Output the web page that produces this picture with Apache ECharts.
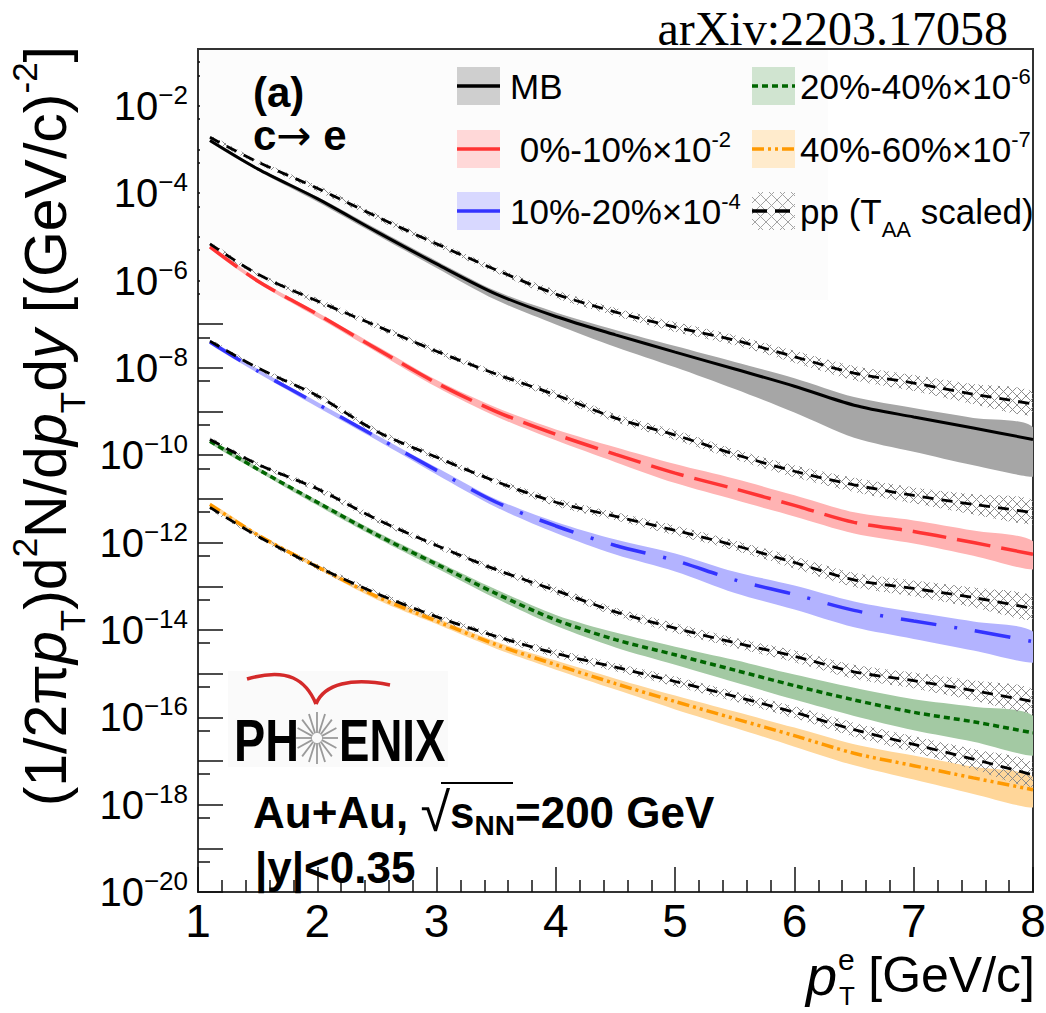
<!DOCTYPE html>
<html>
<head>
<meta charset="utf-8">
<title>c→e spectra, Au+Au</title>
<script src="https://cdn.jsdelivr.net/npm/echarts@6.0.0/dist/echarts.min.js"></script>
<style>
  html, body { margin: 0; padding: 0; background: #fff; }
  #chart { width: 1046px; height: 1013px; }
</style>
</head>
<body>
<div id="chart"></div>
<script>
// electron pT (GeV/c)
const pt = [1.1, 1.5, 2, 2.5, 3, 3.5, 4, 4.5, 5, 5.5, 6, 6.5, 7, 7.5, 8];

// c->e invariant yields, before the legend scale factors
const mb    = [1.6e-3, 3.6e-4, 7.5e-5, 1.3e-5, 2.4e-6, 4.9e-7, 1.5e-7, 5.7e-8, 2.3e-8, 9.4e-9, 3.8e-9, 1.4e-9, 7.5e-10, 4.2e-10, 2.3e-10];
const c0010 = [5.9e-4, 9.8e-5, 1.7e-5, 2.7e-6, 4.5e-7, 1.0e-7, 3.0e-8, 1.05e-8, 3.9e-9, 1.7e-9, 7.1e-10, 2.9e-10, 1.8e-10, 1.0e-10, 5.4e-11];
const c1020 = [3.9e-4, 8.5e-5, 1.5e-5, 2.6e-6, 4.5e-7, 8.4e-8, 2.4e-8, 8.6e-9, 3.9e-9, 1.4e-9, 6.5e-10, 2.8e-10, 1.6e-10, 9.7e-11, 5.4e-11];
const c2040 = [2.1e-4, 4.8e-5, 8.4e-6, 1.5e-6, 3.2e-7, 6.8e-8, 1.7e-8, 6.0e-9, 2.7e-9, 1.2e-9, 5.3e-10, 2.5e-10, 1.3e-10, 7.9e-11, 4.4e-11];
const c4060 = [7.5e-5, 1.5e-5, 2.8e-6, 5.8e-7, 1.6e-7, 4.6e-8, 1.6e-8, 5.9e-9, 2.3e-9, 9.3e-10, 3.8e-10, 1.5e-10, 7.8e-11, 4.1e-11, 2.2e-11];

// relative systematic band (upper / lower fraction)
const mbUp    = [0.08, 0.08, 0.11, 0.17, 0.17, 0.17, 0.24, 0.30, 0.37, 0.45, 0.53, 0.53, 0.61, 0.70, 0.89];
const mbLo    = [0.08, 0.08, 0.15, 0.15, 0.19, 0.27, 0.34, 0.47, 0.55, 0.65, 0.75, 0.82, 0.84, 0.86, 0.86];
const c0010Up = [0.11, 0.11, 0.11, 0.17, 0.17, 0.24, 0.30, 0.45, 0.61, 0.70, 0.70, 0.70, 0.79, 0.89, 0.99];
const c0010Lo = [0.10, 0.10, 0.15, 0.15, 0.19, 0.23, 0.27, 0.34, 0.41, 0.44, 0.44, 0.44, 0.47, 0.50, 0.55];
const c1020Up = [0.11, 0.11, 0.11, 0.11, 0.17, 0.17, 0.24, 0.37, 0.45, 0.53, 0.61, 0.61, 0.61, 0.61, 0.70];
const c1020Lo = [0.10, 0.10, 0.15, 0.15, 0.19, 0.23, 0.31, 0.38, 0.44, 0.50, 0.55, 0.59, 0.61, 0.65, 0.67];
const c2040Up = [0.11, 0.11, 0.11, 0.17, 0.17, 0.24, 0.30, 0.45, 0.53, 0.70, 0.79, 0.89, 0.99, 1.21, 1.45];
const c2040Lo = [0.10, 0.10, 0.15, 0.15, 0.19, 0.23, 0.27, 0.34, 0.41, 0.47, 0.52, 0.57, 0.61, 0.65, 0.70];
const c4060Up = [0.11, 0.11, 0.11, 0.11, 0.17, 0.17, 0.24, 0.30, 0.37, 0.45, 0.53, 0.61, 0.70, 0.79, 0.99];
const c4060Lo = [0.10, 0.10, 0.10, 0.15, 0.15, 0.19, 0.23, 0.27, 0.34, 0.38, 0.44, 0.47, 0.52, 0.57, 0.61];

// pp reference, T_AA scaled, before the legend scale factors
const ppMb    = [1.9e-3, 5.2e-4, 1.3e-4, 2.9e-5, 6.9e-6, 1.75e-6, 4.9e-7, 1.9e-7, 8.6e-8, 4.3e-8, 1.8e-8, 7.6e-9, 4.5e-9, 2.5e-9, 1.5e-9];
const pp0010  = [6.9e-4, 1.4e-4, 3.4e-5, 9.1e-6, 2.4e-6, 7.2e-7, 2.4e-7, 7.1e-8, 2.9e-8, 1.05e-8, 4.3e-9, 2.1e-9, 1.2e-9, 7.5e-10, 4.9e-10];
const pp1020  = [4.1e-4, 1.0e-4, 2.3e-5, 3.5e-6, 9.0e-7, 2.5e-7, 8.4e-8, 4.0e-8, 1.9e-8, 8.6e-9, 3.5e-9, 1.4e-9, 8.9e-10, 5.5e-10, 3.1e-10];
const pp2040  = [2.3e-4, 6.2e-5, 1.7e-5, 3.4e-6, 8.6e-7, 2.4e-7, 8.0e-8, 2.6e-8, 1.1e-8, 5.1e-9, 2.5e-9, 1.1e-9, 6.9e-10, 4.1e-10, 2.3e-10];
const pp4060  = [6.4e-5, 1.4e-5, 2.8e-6, 6.8e-7, 2.0e-7, 7.1e-8, 2.9e-8, 1.4e-8, 6.6e-9, 3.0e-9, 1.3e-9, 5.2e-10, 2.4e-10, 1.1e-10, 4.8e-11];
const ppUp    = [0.11, 0.11, 0.17, 0.17, 0.17, 0.17, 0.24, 0.24, 0.30, 0.30, 0.37, 0.45, 0.53, 0.70, 0.89];
const ppLo    = [0.10, 0.10, 0.15, 0.15, 0.15, 0.15, 0.19, 0.19, 0.23, 0.23, 0.27, 0.31, 0.34, 0.41, 0.47];

// scale factors from the legend
const scaleFactors = [1, 1e-2, 1e-4, 1e-6, 1e-7];

// axis ticks (log10 of the y value)
const yDecades = [-20, -19, -18, -17, -16, -15, -14, -13, -12, -11, -10, -9, -8, -7, -6, -5, -4, -3, -2, -1];
const yLabels  = [-20, -18, -16, -14, -12, -10, -8, -6, -4, -2];
const Y_MIN = 1e-20, Y_MAX = 0.2;

const F = '"Liberation Sans", Arial, Helvetica, sans-serif';

const groups = [
  { name: 'MB',      vals: mb,    up: mbUp,    lo: mbLo,    pp: ppMb,   line: '#000000', band: '#a6a6a6', swatch: '#cfcfcf', dash: 'solid',          width: 3 },
  { name: '0-10%',   vals: c0010, up: c0010Up, lo: c0010Lo, pp: pp0010, line: '#ff3333', band: '#ffb3b3', swatch: '#ffd8d8', dash: [34, 11],         width: 3.5 },
  { name: '10-20%',  vals: c1020, up: c1020Up, lo: c1020Lo, pp: pp1020, line: '#3333ff', band: '#b3b3ff', swatch: '#d8d8ff', dash: [36, 18, 3, 18],  width: 3.5 },
  { name: '20-40%',  vals: c2040, up: c2040Up, lo: c2040Lo, pp: pp2040, line: '#006600', band: '#a3c9a3', swatch: '#d0e4d0', dash: [6, 4],           width: 3.5 },
  { name: '40-60%',  vals: c4060, up: c4060Up, lo: c4060Lo, pp: pp4060, line: '#ff9900', band: '#ffd699', swatch: '#ffebcc', dash: [12, 4, 3, 4, 3, 4], width: 3.5 }
];

// cross-hatch used for the pp bands
function hatchCanvas(w, h, step) {
  const c = document.createElement('canvas');
  c.width = w; c.height = h;
  const g = c.getContext('2d');
  g.strokeStyle = '#8c8c8c';
  g.lineWidth = 1;
  g.beginPath();
  for (let s = -h; s < w + h; s += step) {
    g.moveTo(s, 0); g.lineTo(s + h, h);
    g.moveTo(s + h, 0); g.lineTo(s, h);
  }
  g.stroke();
  return c.toDataURL();
}
const hatchFill = { image: hatchCanvas(9, 9, 9), repeat: 'repeat', imageWidth: 9, imageHeight: 9 };

const series = [];

// systematic band: one polygon, built from all points of the series
function band(name, vals, up, lo, k, fill, z) {
  series.push({
    name: name, type: 'custom', coordinateSystem: 'cartesian2d', silent: true, z: z,
    encode: { x: 0, y: [1, 2] },
    data: pt.map((x, i) => [x, vals[i] * k * (1 - lo[i]), vals[i] * k * (1 + up[i])]),
    renderItem: function (params, api) {
      if (params.dataIndexInside !== 0) return null;
      const n = params.dataInsideLength;
      const top = [], bottom = [];
      for (let i = 0; i < n; i++) {
        top.push(api.coord([api.value(0, i), api.value(2, i)]));
        bottom.push(api.coord([api.value(0, i), api.value(1, i)]));
      }
      const pts = top.concat(bottom.reverse());
      let x0 = Infinity, x1 = -Infinity, y0 = Infinity, y1 = -Infinity;
      pts.forEach(p => { x0 = Math.min(x0, p[0]); x1 = Math.max(x1, p[0]); y0 = Math.min(y0, p[1]); y1 = Math.max(y1, p[1]); });
      return {
        type: 'polygon',
        shape: { points: pts, smooth: 0.3, smoothConstraint: [[x0, y0], [x1, y1]] },
        style: { fill: fill, stroke: null }
      };
    }
  });
}
function curve(name, vals, k, color, dash, width, z) {
  series.push({
    name: name, type: 'line', symbol: 'none', smooth: 0.3, z: z,
    lineStyle: { color: color, width: width, type: dash },
    data: pt.map((x, i) => [x, vals[i] * k])
  });
}

groups.forEach((g, gi) => {
  const k = scaleFactors[gi];
  band(g.name + ' sys', g.vals, g.up, g.lo, k, g.band, 2);
  band('pp ' + g.name + ' sys', g.pp, ppUp, ppLo, k, hatchFill, 3);
});
groups.forEach((g, gi) => {
  const k = scaleFactors[gi];
  curve(g.name, g.vals, k, g.line, g.dash, g.width, 4);
  curve('pp ' + g.name, g.pp, k, '#000', [11, 8], 2.8, 5);
});

// ---------- texts and legend drawn as graphic ----------
const graphics = [];
function txt(x, y, text, style, extra) {
  graphics.push(Object.assign({
    type: 'text', x: x, y: y, z: 20, silent: true,
    style: Object.assign({ text: text, fontFamily: F, fill: '#000', align: 'left', verticalAlign: 'middle' }, style)
  }, extra || {}));
}
function tok(size, extra) {
  return Object.assign({ fontSize: size, fontFamily: F, color: '#000', verticalAlign: 'middle' }, extra || {});
}

// faint legend panel
graphics.push({ type: 'rect', z: 1, silent: true, shape: { x: 200, y: 50, width: 628, height: 250 }, style: { fill: '#fcfcfc' } });

const legendItems = [
  { col: 0, row: 0, g: 0, label: 'MB' },
  { col: 0, row: 1, g: 1, label: ' 0%-10%×10{sup|-2}' },
  { col: 0, row: 2, g: 2, label: '10%-20%×10{sup|-4}' },
  { col: 1, row: 0, g: 3, label: '20%-40%×10{sup|-6}' },
  { col: 1, row: 1, g: 4, label: '40%-60%×10{sup|-7}' },
  { col: 1, row: 2, g: -1, label: 'pp (T{sub|AA} scaled)' }
];
const colX = [457, 752], textX = [510, 800], rowY = [86, 149, 211];
const legendRich = {
  sup: tok(22, { padding: [0, 0, 20, 0] }),
  sub: tok(22, { padding: [36, 0, 0, 0] })
};
const hatchSwatch = hatchCanvas(43, 38, 11);
legendItems.forEach(it => {
  const x = colX[it.col], y = rowY[it.row];
  const g = it.g >= 0 ? groups[it.g] : null;
  if (g) {
    graphics.push({ type: 'rect', z: 20, silent: true, shape: { x: x, y: y - 19, width: 43, height: 38 }, style: { fill: g.swatch } });
  } else {
    graphics.push({ type: 'image', z: 20, silent: true, style: { image: hatchSwatch, x: x, y: y - 19, width: 43, height: 38, opacity: 0.8 } });
  }
  let dash = null;
  if (g && it.g >= 3) dash = g.dash;
  if (!g) dash = [15, 8];
  graphics.push({ type: 'line', z: 21, silent: true, shape: { x1: x, y1: y, x2: x + 43, y2: y },
    style: { stroke: g ? g.line : '#000', lineWidth: 3.5, lineDash: dash } });
  txt(textX[it.col], y, it.label, { fontSize: 35, rich: legendRich });
});

// panel labels
txt(253, 92, '(a)', { fontSize: 42, fontWeight: 'bold' });
txt(253, 135, 'c{a|→} e', { fontSize: 42, fontWeight: 'bold',
  rich: { a: tok(42, { fontFamily: '"DejaVu Sans", sans-serif', fontWeight: 'normal' }) } });

// PHENIX logo
graphics.push({ type: 'rect', z: 1, silent: true, shape: { x: 228, y: 671, width: 220, height: 96 }, style: { fill: '#fafafa' } });
graphics.push({ type: 'bezierCurve', z: 20, silent: true,
  shape: { x1: 247, y1: 679, cpx1: 288, cpy1: 667, cpx2: 306, cpy2: 680, x2: 316, y2: 704 },
  style: { stroke: '#d42a2a', lineWidth: 3.5, fill: null } });
graphics.push({ type: 'bezierCurve', z: 20, silent: true,
  shape: { x1: 316, y1: 704, cpx1: 324, cpy1: 684, cpx2: 352, cpy2: 677, x2: 390, y2: 685 },
  style: { stroke: '#d42a2a', lineWidth: 3.5, fill: null } });
for (let a = 0; a < 16; a++) {
  const t = a * Math.PI / 8;
  graphics.push({ type: 'line', z: 20, silent: true,
    shape: { x1: 317 + 5 * Math.cos(t), y1: 738 + 5 * Math.sin(t), x2: 317 + 21 * Math.cos(t), y2: 738 + 26 * Math.sin(t) },
    style: { stroke: '#9a9a9a', lineWidth: 1.8 } });
}
txt(234, 740, 'PH', { fontSize: 60, fontWeight: 'bold' }, { scaleX: 0.78 });
txt(339, 740, 'ENIX', { fontSize: 60, fontWeight: 'bold' }, { scaleX: 0.76 });

// collision system
txt(253, 812, 'Au+Au, {r|√}s{sub|NN}=200 GeV', {
  fontSize: 44, fontWeight: 'bold',
  rich: { r: tok(54, { fontWeight: 'normal' }), sub: tok(28, { fontWeight: 'bold', padding: [26, 0, 0, 0] }) }
});
graphics.push({ type: 'line', z: 20, silent: true, shape: { x1: 441, y1: 783, x2: 513, y2: 783 }, style: { stroke: '#000', lineWidth: 2 } });
txt(255, 867, '|y|<0.35', { fontSize: 44, fontWeight: 'bold' });

// axis titles
txt(46, 46, '(1/2π{i|p}{sub|T})d{sup|2}N/d{i|p}{sub|T}d{i|y} [(GeV/c){sup|-2}]', {
  fontSize: 59, align: 'right',
  rich: {
    i: tok(59, { fontStyle: 'italic' }),
    sub: tok(35, { padding: [52, 0, 0, 0] }),
    sup: tok(35, { padding: [0, 0, 44, 0] })
  }
}, { rotation: Math.PI / 2 });
txt(1035, 975, '[GeV/c]', { fontSize: 50, align: 'right' });
txt(806, 975, 'p', { fontSize: 56, fontStyle: 'italic' });
txt(838, 959, 'e', { fontSize: 30 });
txt(839, 996, 'T', { fontSize: 26 });

// arXiv tag
txt(1008, 28, 'arXiv:2203.17058', { fontSize: 48, fontFamily: '"Liberation Serif", "Times New Roman", serif', align: 'right' });

const tickStyle = { color: '#111', width: 1.5 };
const option = {
  animation: false,
  backgroundColor: '#fff',
  textStyle: { fontFamily: F },
  grid: { left: 198, right: 13, top: 49, bottom: 121, show: true, borderColor: '#333', borderWidth: 2, backgroundColor: 'transparent', outerBoundsMode: 'none' },
  xAxis: {
    type: 'value', min: 1, max: 8, interval: 1,
    axisLine: { show: false },
    axisTick: { inside: true, length: 25, lineStyle: tickStyle },
    minorTick: { show: true, splitNumber: 5, length: 12, lineStyle: tickStyle },
    splitLine: { show: false }, minorSplitLine: { show: false },
    axisLabel: { fontSize: 46, color: '#000', margin: 6, fontFamily: F, hideOverlap: false }
  },
  yAxis: [
    {
      type: 'log', logBase: 10, min: Y_MIN, max: Y_MAX,
      axisLine: { show: false }, axisTick: { show: false }, axisLabel: { show: false }, splitLine: { show: false }
    },
    {
      type: 'value', min: Math.log10(Y_MIN), max: Math.log10(Y_MAX), position: 'left',
      axisLine: { show: false }, splitLine: { show: false },
      axisTick: { inside: true, length: 25, lineStyle: tickStyle, customValues: yDecades },
      axisLabel: {
        customValues: yLabels, margin: 10, hideOverlap: false,
        formatter: v => '{b|10}{e|−' + Math.abs(Math.round(v)) + '}',
        rich: { b: tok(40), e: tok(26, { padding: [0, 0, 22, 0] }) }
      }
    },
    {
      type: 'value', min: Math.log10(Y_MIN), max: Math.log10(Y_MAX), position: 'left',
      axisLine: { show: false }, splitLine: { show: false }, axisLabel: { show: false },
      axisTick: { inside: true, length: 12, lineStyle: tickStyle, customValues: yDecades.map(d => d + Math.log10(5)) }
    }
  ],
  graphic: graphics,
  series: series
};

const chart = echarts.init(document.getElementById('chart'), null, { renderer: 'svg' });
chart.setOption(option);
window.addEventListener('resize', chart.resize);
</script>
</body>
</html>
